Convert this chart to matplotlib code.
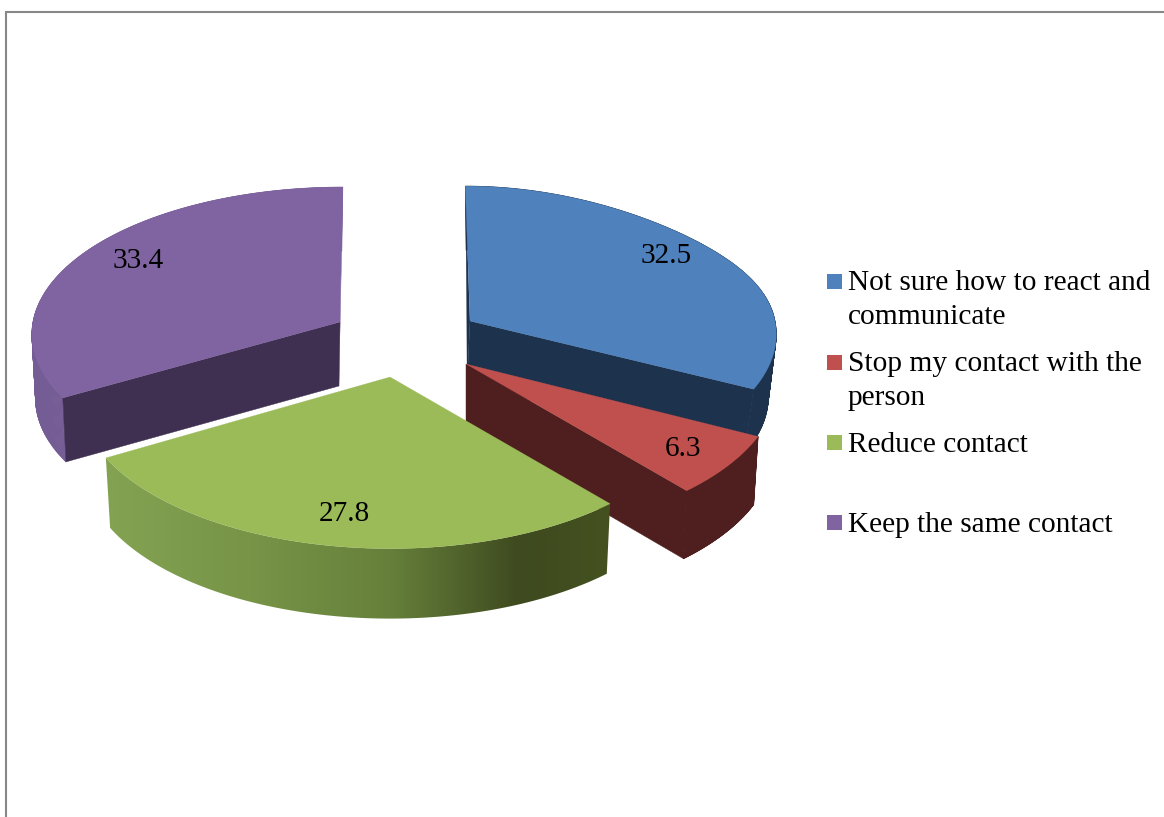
import numpy as np
import matplotlib
matplotlib.use("Agg")
import matplotlib.pyplot as plt
from matplotlib.colors import to_rgb
from matplotlib.patches import Polygon, Rectangle
from matplotlib.collections import PolyCollection

categories = ["Not sure how to react and\ncommunicate",
              "Stop my contact with the\nperson",
              "Reduce contact",
              "Keep the same contact"]
shares = [32.5, 6.3, 27.8, 33.4]
value_labels = ["32.5", "6.3", "27.8", "33.4"]

top_colors = ["#4F81BD", "#C0504D", "#9BBB59", "#8064A2"]
wall_colors = ["#1D324C", "#4E1F1E", None, "#3F2F50"]
rim_colors = ["#1D324C", "#4E1F1E", None, "#745C94"]
far_wall_colors = ["#1D324C", None, None, "#6A5189"]

# Projection of each exploded wedge: apex on the top face, apex on the lower
# face, radii, perspective strength, lean of the depth axis and a flattening
# of the far shoulder of the arc.
apex_top = [(470, 321), (466, 364), (390, 377), (340, 322)]
apex_low = [(467, 385), (466, 432), (390, 447), (339, 386)]
radius_x = [305, 310, 309, 307]
radius_y = [145.0, 151.0, 151.0, 145.0]
perspective = [0.075, 0.12, 0.12, 0.075]
lean_top = [-5, 0, 0, 3]
lean_low = [-1, 0, 0, 3]
flatten = [0.28, 0.0, 0.0, 0.0]
SHRINK_X = 0.985

# Shading along the rim of the green wedge, keyed by horizontal position.
green_x = [105, 250, 390, 520, 609]
green_rgb = np.array([to_rgb(c) for c in ["#84A352", "#779447", "#66803B", "#3E4A1F", "#44511F"]])

label_xy = [(666, 263), (683, 456), (344, 521), (138, 268)]
legend_y = [274, 355, 435, 515]
legend_text_y = [290, 371, 452, 532]
LINE_STEP = 33.5
TEXT_SIZE = 21.15


def vertical_offset(i, theta):
    u = np.cos(theta)
    k = 1.0 / (1.0 + perspective[i] * u)
    shoulder = 1.0 - flatten[i] * np.clip(u, 0, 1) * (1.0 - np.clip(u, 0, 1))
    return radius_y[i] * u * k * shoulder


def top_point(i, theta):
    u, v = np.cos(theta), np.sin(theta)
    k = 1.0 / (1.0 + perspective[i] * u)
    return (apex_top[i][0] + (radius_x[i] * v + lean_top[i] * u) * k,
            apex_top[i][1] - vertical_offset(i, theta))


def low_point(i, theta):
    u, v = np.cos(theta), np.sin(theta)
    k = 1.0 / (1.0 + perspective[i] * u)
    return (apex_low[i][0] + (SHRINK_X * radius_x[i] * v + lean_low[i] * u) * k,
            apex_low[i][1] - vertical_offset(i, theta))


fig = plt.figure(figsize=(11.64, 8.17), dpi=100)
ax = fig.add_axes([0, 0, 1, 1])
ax.axis("off")

# Chart frame: top and left edges are the only ones inside the canvas.
ax.plot([6.3, 6.3, 1164], [817, 12.3, 12.3], color="#878787", lw=1.5,
        solid_joinstyle="miter", zorder=1)

edges = np.cumsum([0.0] + shares) / sum(shares) * 2 * np.pi
for order, i in enumerate([3, 0, 1, 2]):
    base = 10 + order * 10
    t = np.linspace(edges[i], edges[i + 1], 240)
    tx, ty = top_point(i, t)
    lx, ly = low_point(i, t)

    # Radial side walls that face the viewer.
    near, far = (t[0], t[-1]) if i == 3 else (t[-1], t[0])
    if far_wall_colors[i]:
        ax.add_patch(Polygon([apex_top[i], top_point(i, far), low_point(i, far), apex_low[i]],
                             closed=True, fc=far_wall_colors[i], ec="none", zorder=base))

    # Outer rim: narrow quads for a flat colour, a clipped ramp for the shaded one.
    if rim_colors[i]:
        quads = [[(tx[j], ty[j]), (tx[j + 1], ty[j + 1]), (lx[j + 1], ly[j + 1]), (lx[j], ly[j])]
                 for j in range(len(t) - 1)]
        ax.add_collection(PolyCollection(quads, facecolors=rim_colors[i], edgecolors=rim_colors[i],
                                         linewidths=0.5, zorder=base + 1))
    else:
        rim = np.vstack([np.column_stack([tx, ty]), np.column_stack([lx, ly])[::-1]])
        xs = np.arange(green_x[0] - 2, green_x[-1] + 3)
        ramp = np.column_stack([np.interp(xs, green_x, green_rgb[:, c]) for c in range(3)])[None, :, :]
        img = ax.imshow(ramp, extent=(xs[0], xs[-1], ly.max() + 2, ty.min() - 2), aspect="auto",
                        interpolation="bilinear", zorder=base + 1)
        img.set_clip_path(Polygon(rim, closed=True, transform=ax.transData))

    if wall_colors[i]:
        ax.add_patch(Polygon([apex_top[i], top_point(i, near), low_point(i, near), apex_low[i]],
                             closed=True, fc=wall_colors[i], ec=wall_colors[i], lw=0.3, zorder=base + 2))

    # Top face.
    ax.add_patch(Polygon(np.vstack([[apex_top[i]], np.column_stack([tx, ty])]), closed=True,
                         fc=top_colors[i], ec=top_colors[i], lw=0.2, zorder=base + 4))

    ax.text(*label_xy[i], value_labels[i], family="Liberation Serif", fontsize=TEXT_SIZE,
            color="black", ha="center", va="baseline", zorder=100)

# Legend keys and entries.
for i, name in enumerate(categories):
    ax.add_patch(Rectangle((827, legend_y[i]), 15, 15, fc=top_colors[i], ec="none", zorder=90))
    for n, line in enumerate(name.split("\n")):
        ax.text(848, legend_text_y[i] + n * LINE_STEP, line, family="Liberation Serif",
                fontsize=TEXT_SIZE, color="black", ha="left", va="baseline", zorder=100)

ax.set_xlim(0, 1164)
ax.set_ylim(817, 0)
fig.savefig("out.png", dpi=100, facecolor="white")
